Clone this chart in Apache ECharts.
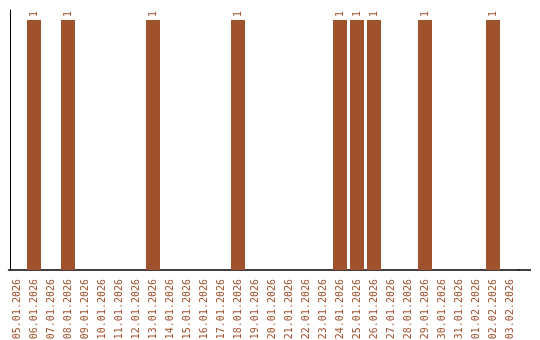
<!DOCTYPE html>
<html><head><meta charset="utf-8">
<script src="https://cdn.jsdelivr.net/npm/echarts@6/dist/echarts.min.js"></script>
<style>html,body{margin:0;padding:0;background:#fff}#c{width:540px;height:340px}</style>
</head><body><div id="c"></div>
<script>
const categories = ["05.01.2026","06.01.2026","07.01.2026","08.01.2026","09.01.2026","10.01.2026","11.01.2026","12.01.2026","13.01.2026","14.01.2026","15.01.2026","16.01.2026","17.01.2026","18.01.2026","19.01.2026","20.01.2026","21.01.2026","22.01.2026","23.01.2026","24.01.2026","25.01.2026","26.01.2026","27.01.2026","28.01.2026","29.01.2026","30.01.2026","31.01.2026","01.02.2026","02.02.2026","03.02.2026"];
const counts = [0,1,0,1,0,0,0,0,1,0,0,0,0,1,0,0,0,0,0,1,1,1,0,0,1,0,0,0,1,0];
const color = '#A0522D';
const chart = echarts.init(document.getElementById('c'), null, {renderer:'canvas'});
chart.setOption({
  animation:false,
  grid:{left:8.5, right:21.5, top:10, bottom:70, containLabel:false, outerBoundsMode:'none'},
  xAxis:{type:'category', data:categories,
    axisLine:{lineStyle:{color:'#000', width:1.5}},
    axisTick:{show:false},
    axisLabel:{rotate:90, interval:0, color:color, fontFamily:'DejaVu Sans Mono', fontSize:10, margin:9}},
  yAxis:{type:'value', min:0, max:1.04, offset:-1.5,
    axisLine:{show:true, lineStyle:{color:'#000', width:1}},
    axisTick:{show:false}, axisLabel:{show:false}, splitLine:{show:false}},
  graphic:[{type:'line', shape:{x1:518, y1:270, x2:531, y2:270}, style:{stroke:'#000', lineWidth:1.5}}],
  series:[{type:'bar', data:counts.map(v=>v===0?null:v), barWidth:14, itemStyle:{color:color},
    label:{show:true, position:'top', rotate:90, distance:3, color:color, fontFamily:'DejaVu Sans Mono', fontSize:10, align:'left', verticalAlign:'middle'}}]
});
</script></body></html>
